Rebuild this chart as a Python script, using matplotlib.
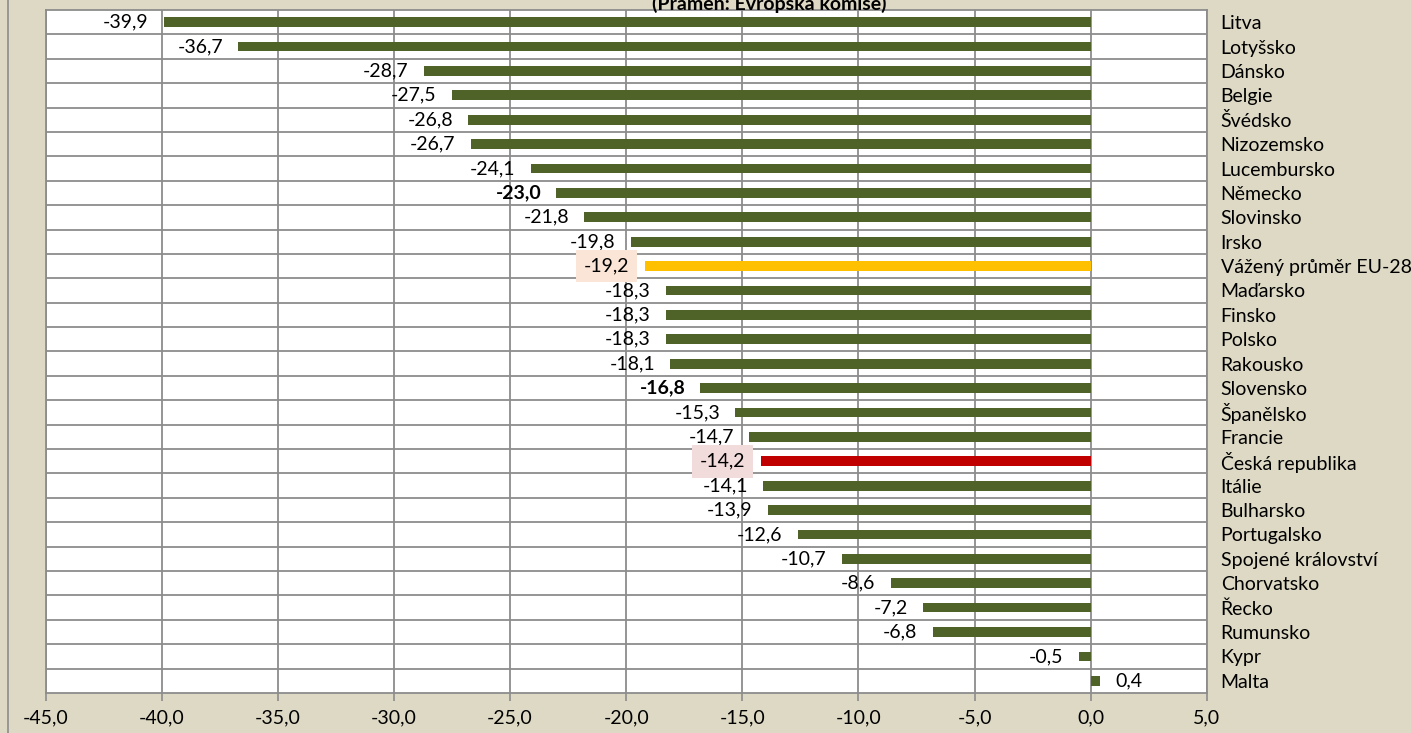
import matplotlib
matplotlib.use("Agg")
import matplotlib.pyplot as plt
from matplotlib.lines import Line2D

# data (top to bottom)
countries = [
    "Litva", "Lotyšsko", "Dánsko", "Belgie", "Švédsko", "Nizozemsko",
    "Lucembursko", "Německo", "Slovinsko", "Irsko", "Vážený průměr EU-28",
    "Maďarsko", "Finsko", "Polsko", "Rakousko", "Slovensko", "Španělsko",
    "Francie", "Česká republika", "Itálie", "Bulharsko", "Portugalsko",
    "Spojené království", "Chorvatsko", "Řecko", "Rumunsko", "Kypr", "Malta",
]
values = [
    -39.9, -36.7, -28.7, -27.5, -26.8, -26.7, -24.1, -23.0, -21.8, -19.8,
    -19.2, -18.3, -18.3, -18.3, -18.1, -16.8, -15.3, -14.7, -14.2, -14.1,
    -13.9, -12.6, -10.7, -8.6, -7.2, -6.8, -0.5, 0.4,
]
x_ticks = [-45, -40, -35, -30, -25, -20, -15, -10, -5, 0, 5]
bold_labels = ["Německo", "Slovensko"]
title = "(Pramen: Evropská komise)"

GREEN = "#4f6228"
YELLOW = "#ffc000"
RED = "#c00000"
BG = "#ddd9c4"
GRID = "#8c8c8c"
FONT = "Lato"
FS = 14

plt.rcParams["font.family"] = [FONT, "DejaVu Sans"]

fig = plt.figure(figsize=(14.11, 7.33), dpi=100, facecolor=BG)
ax = fig.add_axes([0.03225, 0.0546, 0.8230, 0.9318])
ax.set_facecolor("white")

n = len(countries)
ypos = list(range(n))
colors = []
for c in countries:
    if c == "Vážený průměr EU-28":
        colors.append(YELLOW)
    elif c == "Česká republika":
        colors.append(RED)
    else:
        colors.append(GREEN)

ax.barh(ypos, values, height=0.4, color=colors, zorder=3)

ax.set_xlim(-45, 5)
ax.set_ylim(n - 0.5, -0.5)

# data labels
for y, v, c in zip(ypos, values, countries):
    txt = f"{v:.1f}".replace(".", ",")
    weight = "bold" if c in bold_labels else "normal"
    box = None
    if c == "Vážený průměr EU-28":
        box = dict(boxstyle="square,pad=0.4", fc="#fbe5d6", ec="none")
    elif c == "Česká republika":
        box = dict(boxstyle="square,pad=0.4", fc="#f2dcdb", ec="none")
    if v < 0:
        ax.annotate(txt, (v, y), xytext=(-11, 0), textcoords="offset points",
                    ha="right", va="center", fontsize=FS, fontweight=weight,
                    bbox=box, zorder=4)
    else:
        ax.annotate(txt, (v, y), xytext=(11, 0), textcoords="offset points",
                    ha="left", va="center", fontsize=FS, fontweight=weight,
                    bbox=box, zorder=4)

# grid
ax.set_xticks(x_ticks)
ax.set_xticklabels([f"{t:.1f}".replace(".", ",") for t in x_ticks], fontsize=FS)
ax.set_yticks([y + 0.5 for y in ypos[:-1]], minor=True)
ax.set_yticks(ypos)
ax.set_yticklabels(countries, fontsize=FS)
ax.yaxis.tick_right()
ax.tick_params(axis="y", which="both", length=0, pad=10)
ax.tick_params(axis="x", length=6, width=1.2, color=GRID, pad=6)
ax.grid(axis="x", color=GRID, linewidth=1.3, zorder=1)
ax.grid(axis="y", which="minor", color=GRID, linewidth=1.3, zorder=1)
for s in ax.spines.values():
    s.set_color(GRID)
    s.set_linewidth(1.3)

fig.text(0.545, 0.994, title, ha="center", va="center", fontsize=FS,
         fontweight="bold")
fig.add_artist(Line2D([8 / 1411, 8 / 1411], [0, 1], color="#8c8c8c",
                      linewidth=1.2, transform=fig.transFigure))

fig.savefig("out.png", dpi=100, facecolor=BG)
